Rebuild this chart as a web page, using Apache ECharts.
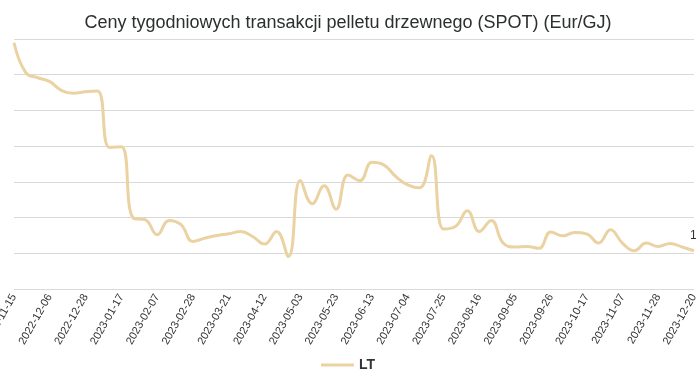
<!DOCTYPE html>
<html>
<head>
<meta charset="utf-8">
<script src="https://cdn.jsdelivr.net/npm/echarts@6/dist/echarts.min.js"></script>
<style>
html,body{margin:0;padding:0;background:#fff;}
#chart{width:696px;height:385px;}
</style>
</head>
<body>
<div id="chart"></div>
<script>
const titleText = 'Ceny tygodniowych transakcji pelletu drzewnego (SPOT) (Eur/GJ)';
const seriesName = 'LT';
const dates = [
  '2022-11-15','2022-11-22','2022-11-29','2022-12-06','2022-12-13','2022-12-20',
  '2022-12-28','2023-01-03','2023-01-10','2023-01-17','2023-01-24','2023-01-31',
  '2023-02-07','2023-02-14','2023-02-21','2023-02-28','2023-03-07','2023-03-14',
  '2023-03-21','2023-03-28','2023-04-04','2023-04-12','2023-04-18','2023-04-25',
  '2023-05-03','2023-05-09','2023-05-16','2023-05-23','2023-05-30','2023-06-06',
  '2023-06-13','2023-06-20','2023-06-27','2023-07-04','2023-07-11','2023-07-18',
  '2023-07-25','2023-08-01','2023-08-08','2023-08-16','2023-08-22','2023-08-29',
  '2023-09-05','2023-09-12','2023-09-19','2023-09-26','2023-10-03','2023-10-10',
  '2023-10-17','2023-10-24','2023-10-31','2023-11-07','2023-11-14','2023-11-21',
  '2023-11-28','2023-12-05','2023-12-12','2023-12-20'
];
const values = [
  23.79, 22.10, 21.83, 21.61, 21.11, 20.96,
  21.05, 21.09, 17.93, 17.96, 13.97, 13.88,
  13.04, 13.84, 13.60, 12.66, 12.85, 13.00,
  13.09, 13.22, 12.94, 12.52, 13.22, 11.82,
  16.07, 14.77, 15.78, 14.47, 16.39, 16.07,
  17.10, 16.95, 16.30, 15.83, 15.67, 17.46,
  13.36, 13.50, 14.38, 13.22, 13.84, 12.57,
  12.35, 12.38, 12.28, 13.19, 12.98, 13.17,
  13.09, 12.57, 13.32, 12.57, 12.14, 12.57,
  12.38, 12.55, 12.35, 12.14
];
const yMin = 10, yMax = 24, yStep = 2;

const lineColor = '#ebd2a2';

const chart = echarts.init(document.getElementById('chart'), null, { renderer: 'canvas' });
chart.setOption({
  animation: false,
  backgroundColor: '#ffffff',
  title: {
    text: titleText,
    left: 'center',
    top: 9,
    textStyle: { fontFamily: 'Liberation Sans, Arial, sans-serif', fontSize: 18, fontWeight: 'normal', color: '#2b2f2e' }
  },
  legend: {
    data: [seriesName],
    top: 353,
    left: 'center',
    icon: 'rect',
    itemWidth: 33,
    itemHeight: 3,
    itemGap: 5,
    textStyle: { fontFamily: 'Liberation Sans, Arial, sans-serif', fontSize: 14, fontWeight: 'bold', color: '#333' }
  },
  grid: { left: 14, right: 2, top: 39, bottom: 96, containLabel: false, outerBoundsMode: 'none' },
  xAxis: {
    type: 'category',
    data: dates,
    boundaryGap: false,
    axisLine: { show: false },
    axisTick: { show: false },
    axisLabel: {
      interval: 2,
      rotate: 60,
      margin: 6,
      hideOverlap: false,
      fontFamily: 'Liberation Sans, Arial, sans-serif',
      fontSize: 11,
      color: '#333'
    },
    splitLine: { show: false }
  },
  yAxis: {
    type: 'value',
    min: yMin,
    max: yMax,
    interval: yStep,
    axisLabel: { show: false },
    axisLine: { show: false },
    axisTick: { show: false },
    splitLine: { lineStyle: { color: '#d9d9d9', width: 1 } }
  },
  series: [{
    name: seriesName,
    type: 'line',
    data: values,
    smooth: 0.45,
    showSymbol: false,
    lineStyle: { color: lineColor, width: 3 },
    itemStyle: { color: lineColor },
    endLabel: {
      show: true,
      offset: [-12, -15],
      fontFamily: 'Liberation Sans, Arial, sans-serif',
      fontSize: 12,
      color: '#333',
      formatter: p => p.value.toFixed(2)
    }
  }]
});
</script>
</body>
</html>
